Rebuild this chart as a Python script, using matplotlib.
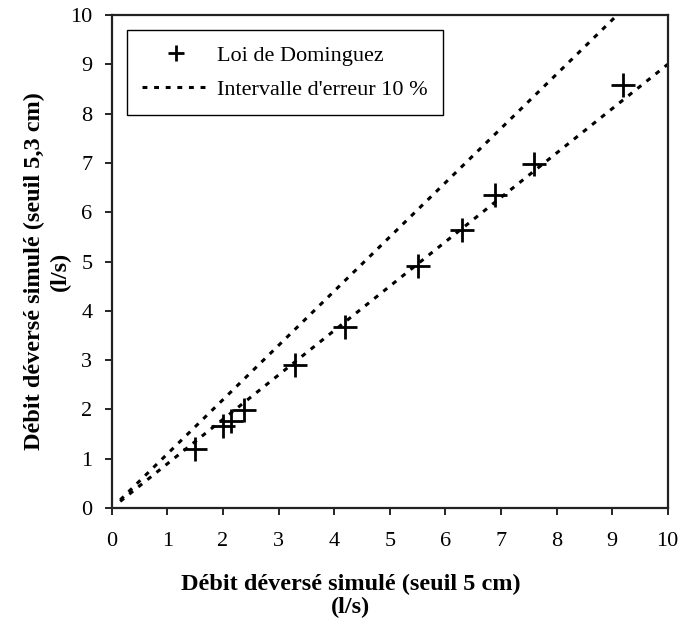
import matplotlib
matplotlib.use("Agg")
import matplotlib.pyplot as plt
import numpy as np

# Points (seuil 5 cm vs seuil 5,3 cm)
q_5cm = [1.5, 2.0, 2.15, 2.38, 3.3, 4.2, 5.5, 6.3, 6.9, 7.6, 9.2]
q_53cm = [1.2, 1.66, 1.77, 1.98, 2.9, 3.68, 4.9, 5.65, 6.35, 6.98, 8.58]

# 10 % error band
band_x = [0.15, 10.0]
upper_factor = 1.1
lower_factor = 0.9

plt.rcParams["font.family"] = ["Liberation Serif", "DejaVu Serif"]

fig = plt.figure(figsize=(6.82, 6.28), dpi=100)
ax = fig.add_axes([0.164, 0.191, 0.815, 0.785])

bx = np.array(band_x)
dots = (0, (1.6, 2.2))
ax.plot(bx, bx * upper_factor, color="black", linestyle=dots, linewidth=2.2,
        label="Intervalle d'erreur 10 %")
ax.plot(bx, bx * lower_factor, color="black", linestyle=dots, linewidth=2.2)
ax.plot(q_5cm, q_53cm, linestyle="none", marker="+", color="black",
        markersize=17, markeredgewidth=2.0, label="Loi de Dominguez")

ax.set_xlim(0, 10)
ax.set_ylim(0, 10)
ax.set_xticks(range(0, 11))
ax.set_yticks(range(0, 11))
ax.tick_params(direction="out", length=5, width=1.2, labelsize=16)
ax.tick_params(axis="x", pad=12)
ax.tick_params(axis="y", pad=9)
for spine in ax.spines.values():
    spine.set_linewidth(1.6)
    spine.set_color("#222222")

ax.set_xlabel("Débit déversé simulé (seuil 5 cm)\n(l/s)", fontsize=17.5,
              fontweight="bold", linespacing=1.1)
ax.xaxis.set_label_coords(0.43, -0.133, transform=ax.transAxes)
ax.xaxis.label.set_va("top")
ax.set_ylabel("Débit déversé simulé (seuil 5,3 cm)\n(l/s)", fontsize=17.5,
              fontweight="bold", linespacing=1.3)
ax.yaxis.set_label_coords(-0.074, 0.48, transform=ax.transAxes)

handles, labels = ax.get_legend_handles_labels()
order = [1, 0]
leg = ax.legend([handles[i] for i in order], [labels[i] for i in order],
                loc="upper left", bbox_to_anchor=(0.027, 0.97),
                borderaxespad=0, fancybox=False, edgecolor="black",
                fontsize=16, handlelength=3.0, handletextpad=0.35,
                framealpha=1, borderpad=0.7, labelspacing=0.6,
                markerscale=0.7)
leg.get_frame().set_linewidth(1.0)

fig.savefig("out.png", dpi=100, facecolor="white")
